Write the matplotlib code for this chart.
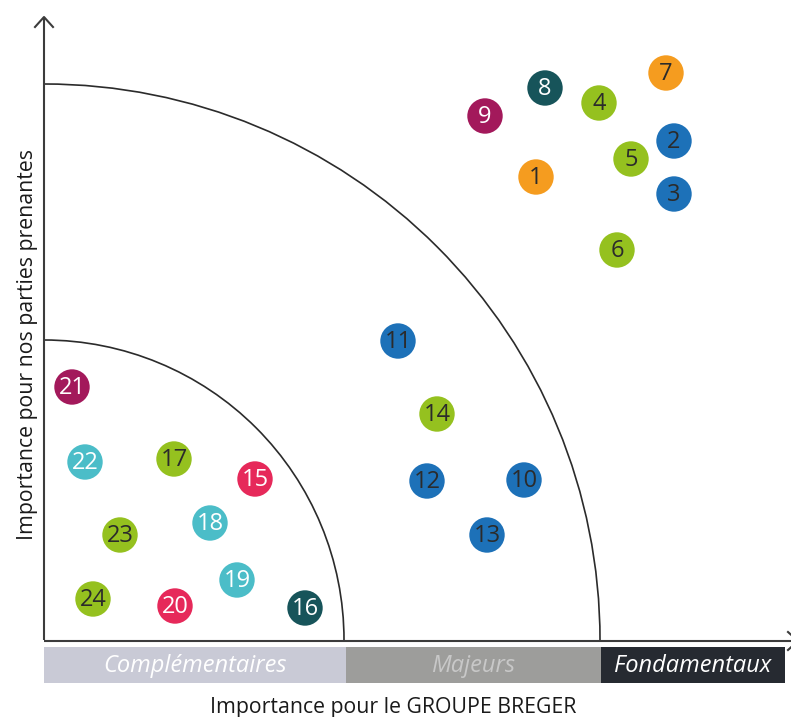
import matplotlib
matplotlib.use("Agg")
import matplotlib.pyplot as plt
from matplotlib.patches import Arc, Rectangle
import numpy as np

plt.rcParams["font.family"] = ["Open Sans", "DejaVu Sans"]

# enjeux : numéro, importance groupe (x), importance parties prenantes (y), couleur
labels = [str(i) for i in range(1, 25)]
x_vals = [492, 630, 630, 555, 587, 573, 622, 501, 441, 480, 354, 383,
          443, 393, 211, 261, 130, 166, 193, 131, 28, 41, 76, 49]
y_vals = [463, 499, 446, 537, 481, 390, 567, 552, 524, 160, 299, 159,
          105, 226, 161, 32, 181, 117, 60, 34, 253, 178, 105, 41]
groups = ["orange", "blue", "blue", "green", "green", "green", "orange", "teal",
          "magenta", "blue", "blue", "blue", "blue", "green", "red", "teal",
          "green", "cyan", "cyan", "red", "magenta", "cyan", "green", "green"]

palette = {
    "orange": ("#f59c1f", "#2b2b2b"),
    "blue": ("#1d71b8", "#2b2b2b"),
    "green": ("#95c11f", "#2b2b2b"),
    "teal": ("#17545a", "white"),
    "magenta": ("#a3195b", "white"),
    "red": ("#e6295a", "white"),
    "cyan": ("#4bbdc8", "white"),
}

# zones
zone_names = ["Complémentaires", "Majeurs", "Fondamentaux"]
zone_edges = [0, 302, 557, 741]
zone_colors = ["#c9cad6", "#9d9d9b", "#262a31"]
zone_text_colors = ["white", "#c8c8c8", "white"]
arc_radii = [300, 556]

fig = plt.figure(figsize=(7.91, 7.17), dpi=100)
ax = fig.add_axes([0, 0, 1, 1])
ax.set_xlim(-44, 747)
ax.set_ylim(-77, 640)
ax.set_aspect("equal")
ax.axis("off")

# arcs
for r in arc_radii:
    ax.add_patch(Arc((0, 0), 2 * r, 2 * r, theta1=0, theta2=90,
                     color="#2b2b2b", lw=1.2))

# axes with arrows
axis_col = "#3c3c3c"
ax.plot([0, 0], [0, 623], color=axis_col, lw=1.5, solid_capstyle="butt")
ax.plot([0, 752], [-1, -1], color=axis_col, lw=1.5, solid_capstyle="butt")
ax.plot([-9, 0, 9], [613, 623, 613], color=axis_col, lw=1.5)
ax.plot([744, 754, 744], [8, -1, -10], color=axis_col, lw=1.5, clip_on=False)

# bands
for i, name in enumerate(zone_names):
    x0, x1 = zone_edges[i], zone_edges[i + 1]
    ax.add_patch(Rectangle((x0, -42.7), x1 - x0, 36, facecolor=zone_colors[i],
                           edgecolor="none"))
    ax.text((x0 + x1) / 2, -25.5, name, ha="center", va="center",
            fontsize=17, style="italic", color=zone_text_colors[i])

# points
fcols = [palette[g][0] for g in groups]
ax.scatter(x_vals, y_vals, s=650, c=fcols, edgecolors="none", zorder=3)
for lab, x, y, g in zip(labels, x_vals, y_vals, groups):
    ax.text(x, y - 1, lab, ha="center", va="center", fontsize=17,
            color=palette[g][1], zorder=4)

ax.text(349, -67, "Importance pour le GROUPE BREGER", ha="center", va="center",
        fontsize=15.3, color="#1a1a1a")
ax.text(-16, 296, "Importance pour nos parties prenantes", ha="center",
        va="center", rotation=90, fontsize=15.3, color="#1a1a1a")

fig.savefig("out.png", dpi=100)
